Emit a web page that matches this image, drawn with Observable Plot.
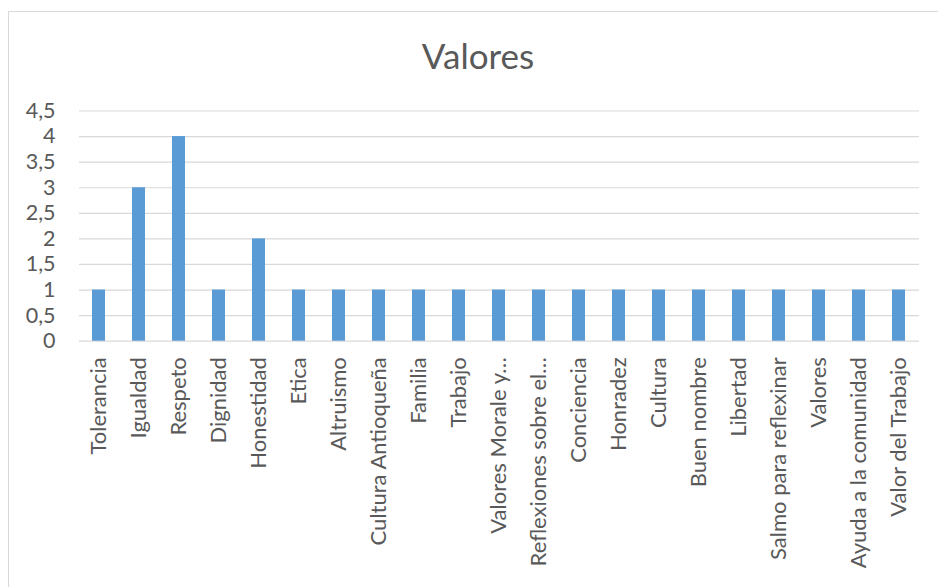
<!DOCTYPE html>
<html><head><meta charset="utf-8">
<script src="https://cdn.jsdelivr.net/npm/d3@7"></script>
<script src="https://cdn.jsdelivr.net/npm/@observablehq/plot@0.6"></script>
<style>
body{margin:0;background:#fff;width:938px;height:587px;overflow:hidden;position:relative;font-family:Lato,"Open Sans",sans-serif;}
#frame{position:absolute;left:8px;top:11px;width:1000px;height:700px;border:1.5px solid #d9d9d9;box-sizing:border-box;}
#title{position:absolute;left:0;width:956px;top:34px;text-align:center;font-size:35px;color:#595959;}
#chart{position:absolute;left:0;top:90px;}
</style></head><body>
<div id="frame"></div>
<div id="title">Valores</div>
<div id="chart"></div>
<script>
const categories = ["Tolerancia","Igualdad","Respeto","Dignidad","Honestidad","Etica","Altruismo","Cultura Antioqueña","Familia","Trabajo","Valores Morale y…","Reflexiones sobre el…","Conciencia","Honradez","Cultura","Buen nombre","Libertad","Salmo para reflexinar","Valores","Ayuda a la comunidad","Valor del Trabajo"];
const values = [1,3,4,1,2,1,1,1,1,1,1,1,1,1,1,1,1,1,1,1,1];
const yTicks = [0,0.5,1,1.5,2,2.5,3,3.5,4,4.5];
const data = categories.map((c,i)=>({cat:c,val:values[i]}));
const chart = Plot.plot({
  width:938, height:497,
  marginTop:20.5, marginBottom:246.3, marginLeft:79, marginRight:19,
  style:{fontFamily:"Lato, 'Open Sans', sans-serif", color:"#595959", background:"transparent"},
  x:{domain:categories, paddingInner:0.67, paddingOuter:0.335, label:null},
  y:{domain:[0,4.5], label:null},
  marks:[
    Plot.gridY(yTicks,{stroke:"#d9d9d9", strokeOpacity:1, strokeWidth:1.2}),
    Plot.barY(data,{x:"cat", y:"val", fill:"#5b9bd5"}),
    Plot.axisY(yTicks,{tickSize:0, tickPadding:24, fontSize:21.5, fill:"#595959", tickFormat:d=>String(d).replace(".",","), label:null}),
    Plot.axisX({tickSize:0, tickRotate:-90, tickPadding:16, fontSize:22, fill:"#595959", label:null})
  ]
});
document.getElementById("chart").appendChild(chart);
</script>
</body></html>
